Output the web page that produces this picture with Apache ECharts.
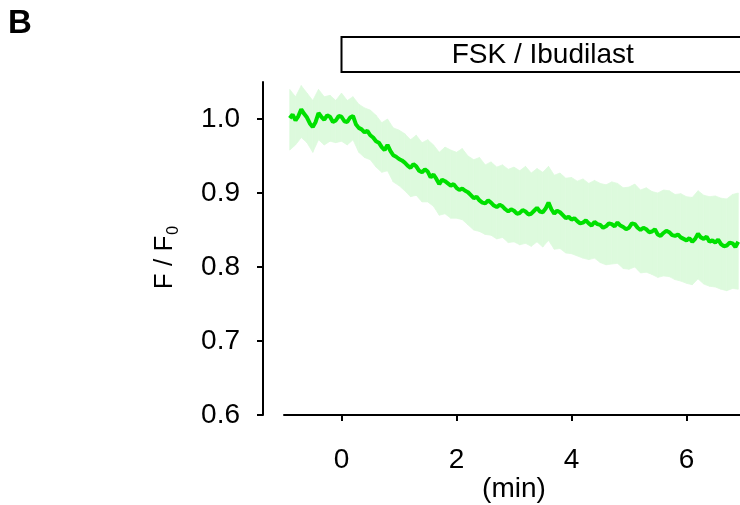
<!DOCTYPE html>
<html><head><meta charset="utf-8">
<script src="https://cdn.jsdelivr.net/npm/echarts@6/dist/echarts.min.js"></script>
<style>html,body{margin:0;padding:0;background:#fff}#c{width:740px;height:505px}</style>
</head><body><div id="c"></div>
<script>
const panelLabel = 'B';
const drugLabel = 'FSK / Ibudilast';
const drugPeriod = [0, 7];
const xTicks = [0, 2, 4, 6];
const yTicks = [0.6, 0.7, 0.8, 0.9, 1.0];
const xName = '(min)';

// mean trace (min, F/F0)
const meanTimes = [-0.9,-0.85,-0.8,-0.75,-0.7,-0.65,-0.6,-0.55,-0.5,-0.45,
  -0.4,-0.35,-0.3,-0.25,-0.2,-0.15,-0.1,-0.05,0.0,0.05,
  0.1,0.15,0.2,0.25,0.3,0.35,0.4,0.45,0.5,0.55,
  0.6,0.65,0.7,0.75,0.8,0.85,0.9,0.95,1.0,1.05,
  1.1,1.15,1.2,1.25,1.3,1.35,1.4,1.45,1.5,1.55,
  1.6,1.65,1.7,1.75,1.8,1.85,1.9,1.95,2.0,2.05,
  2.1,2.15,2.2,2.25,2.3,2.35,2.4,2.45,2.5,2.55,
  2.6,2.65,2.7,2.75,2.8,2.85,2.9,2.95,3.0,3.05,
  3.1,3.15,3.2,3.25,3.3,3.35,3.4,3.45,3.5,3.55,
  3.6,3.65,3.7,3.75,3.8,3.85,3.9,3.95,4.0,4.05,
  4.1,4.15,4.2,4.25,4.3,4.35,4.4,4.45,4.5,4.55,
  4.6,4.65,4.7,4.75,4.8,4.85,4.9,4.95,5.0,5.05,
  5.1,5.15,5.2,5.25,5.3,5.35,5.4,5.45,5.5,5.55,
  5.6,5.65,5.7,5.75,5.8,5.85,5.9,5.95,6.0,6.05,
  6.1,6.15,6.2,6.25,6.3,6.35,6.4,6.45,6.5,6.55,
  6.6,6.65,6.7,6.75,6.8,6.85,6.9];
const meanF = [1.001,1.006,0.998,1.004,1.013,1.007,1.002,0.994,0.989,0.996,
  1.008,1.003,0.999,1.005,1.003,0.996,0.998,1.004,1.003,0.997,
  0.996,1.002,1.004,0.993,0.988,0.986,0.982,0.984,0.978,0.975,
  0.970,0.968,0.962,0.958,0.965,0.957,0.951,0.949,0.946,0.944,
  0.941,0.937,0.934,0.939,0.936,0.930,0.928,0.932,0.929,0.921,
  0.925,0.919,0.912,0.918,0.916,0.913,0.910,0.912,0.907,0.904,
  0.906,0.903,0.901,0.897,0.893,0.895,0.890,0.887,0.886,0.890,
  0.887,0.883,0.881,0.884,0.882,0.878,0.875,0.878,0.876,0.872,
  0.873,0.877,0.875,0.871,0.872,0.876,0.880,0.875,0.874,0.879,
  0.887,0.878,0.872,0.876,0.874,0.870,0.866,0.868,0.864,0.866,
  0.862,0.859,0.860,0.863,0.859,0.856,0.861,0.858,0.857,0.853,
  0.855,0.859,0.858,0.855,0.860,0.856,0.854,0.851,0.853,0.859,
  0.858,0.853,0.850,0.853,0.851,0.847,0.848,0.851,0.844,0.842,
  0.846,0.849,0.847,0.843,0.842,0.844,0.840,0.838,0.836,0.839,
  0.834,0.838,0.845,0.840,0.838,0.841,0.834,0.836,0.833,0.837,
  0.831,0.828,0.829,0.833,0.832,0.827,0.834];

// spread band (min, lower, upper)
const bandTimes = [-0.9,-0.8,-0.7,-0.6,-0.5,-0.4,-0.3,-0.2,-0.1,0.0,
  0.1,0.2,0.3,0.4,0.5,0.6,0.7,0.8,0.9,1.0,
  1.1,1.2,1.3,1.4,1.5,1.6,1.7,1.8,1.9,2.0,
  2.1,2.2,2.3,2.4,2.5,2.6,2.7,2.8,2.9,3.0,
  3.1,3.2,3.3,3.4,3.5,3.6,3.7,3.8,3.9,4.0,
  4.1,4.2,4.3,4.4,4.5,4.6,4.7,4.8,4.9,5.0,
  5.1,5.2,5.3,5.4,5.5,5.6,5.7,5.8,5.9,6.0,
  6.1,6.2,6.3,6.4,6.5,6.6,6.7,6.8,6.9];
const upperF = [1.040,1.030,1.045,1.035,1.025,1.040,1.030,1.032,1.025,1.035,
  1.025,1.030,1.020,1.015,1.012,1.005,0.995,1.000,0.988,0.985,
  0.980,0.972,0.978,0.968,0.972,0.965,0.955,0.962,0.958,0.955,
  0.960,0.950,0.945,0.948,0.938,0.942,0.935,0.938,0.932,0.935,
  0.930,0.936,0.927,0.933,0.928,0.936,0.924,0.927,0.920,0.921,
  0.916,0.919,0.913,0.917,0.913,0.911,0.915,0.913,0.907,0.908,
  0.912,0.904,0.907,0.902,0.900,0.904,0.903,0.898,0.899,0.895,
  0.894,0.903,0.897,0.895,0.896,0.893,0.892,0.898,0.900];
const lowerF = [0.958,0.965,0.975,0.968,0.955,0.972,0.965,0.970,0.968,0.970,
  0.965,0.972,0.955,0.948,0.945,0.935,0.928,0.930,0.915,0.910,
  0.903,0.895,0.897,0.888,0.888,0.882,0.870,0.872,0.866,0.866,
  0.864,0.857,0.850,0.848,0.844,0.843,0.838,0.840,0.833,0.834,
  0.830,0.832,0.828,0.834,0.827,0.836,0.824,0.825,0.819,0.818,
  0.815,0.812,0.810,0.812,0.806,0.803,0.804,0.805,0.798,0.797,
  0.800,0.792,0.793,0.790,0.786,0.788,0.787,0.783,0.781,0.778,
  0.776,0.784,0.777,0.774,0.773,0.770,0.768,0.771,0.770];

const FONT = 'Liberation Sans';
const Y_MIN = 0.6, Y_MAX = 1.05;

const meanData = meanTimes.map((t, i) => [t, meanF[i]]);
const bandData = bandTimes.map((t, i) => [t, lowerF[i], upperF[i]]);

const chart = echarts.init(document.getElementById('c'), null, {renderer: 'canvas'});
chart.setOption({
  animation: false,
  backgroundColor: '#fff',
  title: {
    text: panelLabel, left: 8, top: 7, padding: 0,
    textStyle: {fontFamily: FONT, fontSize: 33, fontWeight: 'bold', color: '#000'}
  },
  grid: {left: 284, top: 82, width: 460, height: 333, outerBoundsMode: 'none', containLabel: false},
  xAxis: {
    type: 'value', min: -1, max: 7, interval: 1,
    name: xName, nameLocation: 'middle', nameGap: 60, nameMoveOverlap: false,
    nameTextStyle: {fontFamily: FONT, fontSize: 28, color: '#000'},
    axisLine: {show: true, onZero: false, lineStyle: {color: '#000', width: 2}},
    axisTick: {show: true, length: 6, customValues: xTicks, lineStyle: {color: '#000', width: 2}},
    axisLabel: {customValues: xTicks, margin: 31, fontFamily: FONT, fontSize: 28, color: '#000'},
    splitLine: {show: false}
  },
  yAxis: {
    type: 'value', min: Y_MIN, max: Y_MAX, interval: 0.1, offset: 21,
    name: '{m|F / F}{s|0}', nameLocation: 'middle', nameGap: 84, nameMoveOverlap: false,
    nameTextStyle: {fontFamily: FONT, fontSize: 26, color: '#000', padding: [0, 18, 0, 0],
      rich: {m: {fontFamily: FONT, fontSize: 26, color: '#000', lineHeight: 28},
             s: {fontFamily: FONT, fontSize: 16, color: '#000', verticalAlign: 'bottom', lineHeight: 16, padding: [0,0,-3,1]}}},
    axisLine: {show: true, onZero: false, lineStyle: {color: '#000', width: 2}},
    axisTick: {show: true, length: 6, customValues: yTicks, lineStyle: {color: '#000', width: 2}},
    axisLabel: {customValues: yTicks, margin: 23, fontFamily: FONT, fontSize: 28, color: '#000',
      formatter: v => v.toFixed(1)},
    splitLine: {show: false}
  },
  series: [
    {type: 'custom', silent: true, clip: false, z: 1,
     encode: {x: 0, y: [1, 2]},
     data: bandData,
     renderItem: function (params, api) {
       const i = params.dataIndex;
       if (i >= bandData.length - 1) return null;
       const n = bandData[i + 1];
       const p1 = api.coord([api.value(0), api.value(2)]);
       const p2 = api.coord([n[0], n[2]]);
       const p3 = api.coord([n[0], n[1]]);
       const p4 = api.coord([api.value(0), api.value(1)]);
       return {type: 'polygon', shape: {points: [p1, p2, p3, p4]},
               style: {fill: '#ddfadd', stroke: '#ddfadd', lineWidth: 0.8}};
     }},
    {type: 'line', data: meanData, symbol: 'none', silent: true,
     lineStyle: {color: '#00e000', width: 4}, z: 3},
    {type: 'custom', silent: true, clip: false, z: 5,
     encode: {x: [0, 1]},
     data: [drugPeriod],
     renderItem: function (params, api) {
       const a = api.coord([api.value(0), Y_MAX]);
       const b = api.coord([api.value(1), Y_MAX]);
       return {type: 'group', children: [
         {type: 'rect', shape: {x: a[0], y: a[1] - 45, width: b[0] - a[0], height: 35},
          style: {fill: '#fff', stroke: '#000', lineWidth: 2}},
         {type: 'text', style: {text: drugLabel, x: (a[0] + b[0]) / 2, y: a[1] - 27,
          align: 'center', verticalAlign: 'middle', fontFamily: FONT, fontSize: 28, fill: '#000'}}
       ]};
     }}
  ]
});
</script></body></html>
